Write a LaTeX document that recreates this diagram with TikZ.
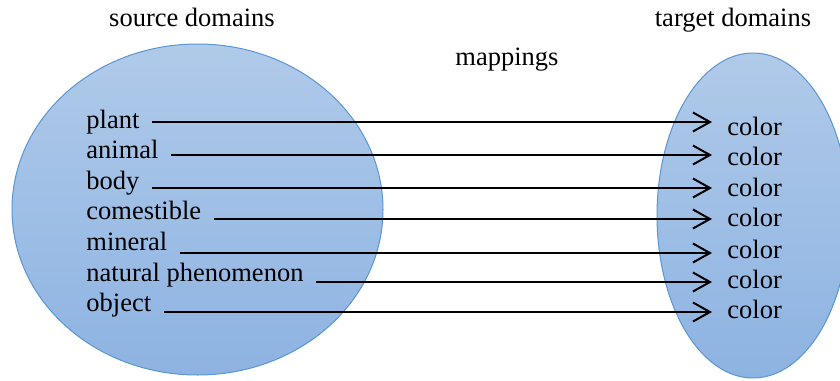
\documentclass[tikz,border=0pt]{standalone}
\usepackage{fontspec}
\setmainfont{Liberation Serif}
\usetikzlibrary{shapes.geometric}
\usetikzlibrary{arrows.meta}
\definecolor{fillTop}{RGB}{176,202,233}
\definecolor{fillBot}{RGB}{141,179,226}
\definecolor{rim}{RGB}{91,150,210}
\tikzstyle{domainblob} = [ellipse, draw=rim, line width=0.5pt, top color=fillTop, bottom color=fillBot, inner sep=0pt]
\tikzstyle{srcitem} = [anchor=base west, inner xsep=6pt, inner ysep=0pt]
\tikzstyle{tgtitem} = [anchor=base west, inner xsep=7.5pt, inner ysep=0pt]
\tikzstyle{mapping} = [-{Straight Barb[length=8.5pt,width=9.5pt]}, line width=1pt]

\begin{document}
\begin{tikzpicture}[x=0.5pt, y=-0.5pt, every node/.style={font=\fontsize{13.25}{15}\selectfont}]
  \clip (0,0) rectangle (840,380);
  \node[domainblob, minimum width=185.5pt, minimum height=165.5pt] (srcdom) at (197.5,209.5) {};
  \node[domainblob, minimum width=96pt, minimum height=162.5pt] (tgtdom) at (753,215.5) {};

  \node[anchor=base] (srctitle) at (192,26) {source domains};
  \node[anchor=base] (tgttitle) at (733,26) {target domains};
  \node[anchor=base] (maptitle) at (507,65) {mappings};

  \node[srcitem] (plant) at (74,128) {plant};
  \node[srcitem] (animal) at (74,158) {animal};
  \node[srcitem] (body) at (74,189) {body};
  \node[srcitem] (comestible) at (74,219) {comestible};
  \node[srcitem] (mineral) at (74,250) {mineral};
  \node[srcitem] (phenomenon) at (74,281) {natural phenomenon};
  \node[srcitem] (object) at (74,311) {object};

  \node[tgtitem] (color1) at (712,135) {color};
  \node[tgtitem] (color2) at (712,165) {color};
  \node[tgtitem] (color3) at (712,196) {color};
  \node[tgtitem] (color4) at (712,226) {color};
  \node[tgtitem] (color5) at (712,258) {color};
  \node[tgtitem] (color6) at (712,288) {color};
  \node[tgtitem] (color7) at (712,318) {color};

  \draw[mapping] (plant.east |- 0,122) -- (color1.west |- 0,122);
  \draw[mapping] (animal.east |- 0,155) -- (color2.west |- 0,155);
  \draw[mapping] (body.east |- 0,188) -- (color3.west |- 0,188);
  \draw[mapping] (comestible.east |- 0,219) -- (color4.west |- 0,219);
  \draw[mapping] (mineral.east |- 0,253) -- (color5.west |- 0,253);
  \draw[mapping] (phenomenon.east |- 0,282) -- (color6.west |- 0,282);
  \draw[mapping] (object.east |- 0,312) -- (color7.west |- 0,312);
\end{tikzpicture}
\end{document}
